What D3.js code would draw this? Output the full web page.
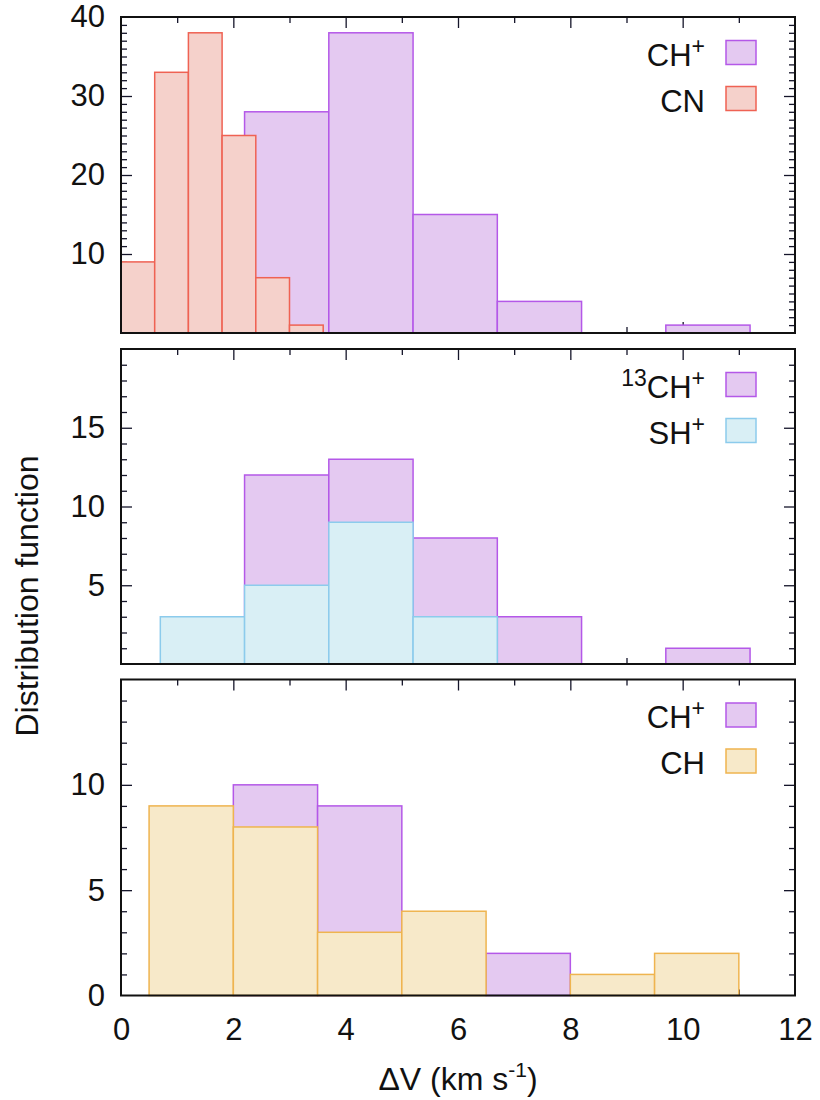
<!DOCTYPE html>
<html>
<head>
<meta charset="utf-8">
<script src="https://cdn.jsdelivr.net/npm/d3@7"></script>
<style>
  html, body { margin: 0; padding: 0; background: #fff; }
  svg text { font-family: "Liberation Sans", Arial, Helvetica, sans-serif; fill: #111; }
</style>
</head>
<body>
<svg id="chart" width="820" height="1100"></svg>
<script>
// Velocity-width histograms (bin edges in km/s, counts per bin)

// Panel 1: CH+ and CN
const chpEdges1 = [2.2, 3.7, 5.2, 6.7, 8.2, 9.7, 11.2];
const chpCounts1 = [28, 38, 15, 4, 0, 1];
const cnEdges = [0, 0.6, 1.2, 1.8, 2.4, 3.0, 3.6];
const cnCounts = [9, 33, 38, 25, 7, 1];

// Panel 2: 13CH+ and SH+
const c13Edges = [0.7, 2.2, 3.7, 5.2, 6.7, 8.2, 9.7, 11.2];
const c13Counts = [0, 12, 13, 8, 3, 0, 1];
const shpEdges = [0.7, 2.2, 3.7, 5.2, 6.7];
const shpCounts = [3, 5, 9, 3];

// Panel 3: CH+ and CH
const chpEdges3 = [0.5, 2.0, 3.5, 5.0, 6.5, 8.0, 9.5, 11.0];
const chpCounts3 = [0, 10, 9, 0, 2, 0, 0];
const chEdges = [0.5, 2.0, 3.5, 5.0, 6.5, 8.0, 9.5, 11.0];
const chCounts = [9, 8, 3, 4, 0, 1, 2];

// Axis ticks
const xMajorTicks = [0, 2, 4, 6, 8, 10, 12];
const xMinorTicks = [1, 3, 5, 7, 9, 11];
const yMax = [40, 20, 15];
const yLabelTicks = [[10, 20, 30, 40], [5, 10, 15], [0, 5, 10]];
const yMajorStep = [10, 5, 5];

const colors = {
  chp: { fill: "#e4c9f1", stroke: "#b458e8" },
  cn:  { fill: "#f5d1cb", stroke: "#ef6253" },
  shp: { fill: "#d9eff5", stroke: "#8ccbec" },
  ch:  { fill: "#f7e9c9", stroke: "#efb44f" }
};

const svg = d3.select("#chart");
const left = 121, right = 795;
const panelBox = [[17, 333], [349, 664], [679.5, 995.5]];
const fontMain = "31px";

const x = d3.scaleLinear().domain([0, 12]).range([left, right]);

const panels = [
  {
    series: [
      { edges: chpEdges1, counts: chpCounts1, c: colors.chp },
      { edges: cnEdges, counts: cnCounts, c: colors.cn }
    ],
    legend: [
      { parts: [["CH", 0], ["+", 1]], c: colors.chp },
      { parts: [["CN", 0]], c: colors.cn }
    ]
  },
  {
    series: [
      { edges: c13Edges, counts: c13Counts, c: colors.chp },
      { edges: shpEdges, counts: shpCounts, c: colors.shp }
    ],
    legend: [
      { parts: [["13", 1], ["CH", 0], ["+", 1]], c: colors.chp },
      { parts: [["SH", 0], ["+", 1]], c: colors.shp }
    ]
  },
  {
    series: [
      { edges: chpEdges3, counts: chpCounts3, c: colors.chp },
      { edges: chEdges, counts: chCounts, c: colors.ch }
    ],
    legend: [
      { parts: [["CH", 0], ["+", 1]], c: colors.chp },
      { parts: [["CH", 0]], c: colors.ch }
    ]
  }
];

panels.forEach((p, i) => {
  const [top, bottom] = panelBox[i];
  const y = d3.scaleLinear().domain([0, yMax[i]]).range([bottom, top]);
  const g = svg.append("g");

  // tick marks (inward, mirrored on all four sides)
  const yMinor = d3.range(1, yMax[i]).filter(v => v % yMajorStep[i] !== 0);
  const yMajor = d3.range(yMajorStep[i], yMax[i], yMajorStep[i]);

  const addAxis = (axis, tx, ty) => {
    const a = g.append("g").attr("transform", `translate(${tx},${ty})`).call(axis);
    a.select(".domain").remove();
    a.selectAll("line").attr("stroke", "#15152a").attr("stroke-width", 1.3);
    a.selectAll("text").remove();
  };
  addAxis(d3.axisLeft(y).tickValues(yMajor).tickSize(-11), left, 0);
  addAxis(d3.axisLeft(y).tickValues(yMinor).tickSize(-6), left, 0);
  addAxis(d3.axisRight(y).tickValues(yMajor).tickSize(-11), right, 0);
  addAxis(d3.axisRight(y).tickValues(yMinor).tickSize(-6), right, 0);
  addAxis(d3.axisTop(x).tickValues(xMajorTicks.slice(1, -1)).tickSize(-11), 0, top);
  addAxis(d3.axisTop(x).tickValues(xMinorTicks).tickSize(-6), 0, top);
  addAxis(d3.axisBottom(x).tickValues(xMajorTicks.slice(1, -1)).tickSize(-11), 0, bottom);
  addAxis(d3.axisBottom(x).tickValues(xMinorTicks).tickSize(-6), 0, bottom);

  // histogram bars
  p.series.forEach(s => {
    const bins = s.counts.map((v, k) => ({ x0: s.edges[k], x1: s.edges[k + 1], v }))
      .filter(d => d.v > 0);
    g.append("g").selectAll("rect").data(bins).join("rect")
      .attr("x", d => x(d.x0))
      .attr("y", d => y(d.v))
      .attr("width", d => x(d.x1) - x(d.x0))
      .attr("height", d => y(0) - y(d.v))
      .attr("fill", s.c.fill)
      .attr("stroke", s.c.stroke)
      .attr("stroke-width", 1.5);
  });

  // frame
  g.append("rect")
    .attr("x", left).attr("y", top)
    .attr("width", right - left).attr("height", bottom - top)
    .attr("fill", "none").attr("stroke", "#111").attr("stroke-width", 2);

  // y tick labels
  const yl = d3.axisLeft(y).tickValues(yLabelTicks[i]).tickSize(0).tickPadding(16);
  const ya = g.append("g").attr("transform", `translate(${left},0)`).call(yl);
  ya.select(".domain").remove();
  ya.selectAll("text").style("font-size", fontMain)
    .attr("font-family", "Liberation Sans, Arial, sans-serif").attr("fill", "#111");

  // legend
  p.legend.forEach((L, k) => {
    const baseY = top + 48.5 + k * 46;
    const t = g.append("text")
      .attr("x", 705).attr("y", baseY)
      .attr("text-anchor", "end")
      .style("font-size", fontMain);
    let raised = false;
    L.parts.forEach(([str, sup]) => {
      const ts = t.append("tspan").text(str);
      if (sup && !raised) { ts.attr("dy", -12).style("font-size", "23px"); raised = true; }
      else if (sup && raised) { ts.style("font-size", "23px"); }
      else if (!sup && raised) { ts.attr("dy", 12); raised = false; }
    });
    g.append("rect")
      .attr("x", 726).attr("y", baseY - 25)
      .attr("width", 30).attr("height", 24)
      .attr("fill", L.c.fill).attr("stroke", L.c.stroke).attr("stroke-width", 1.5);
  });

  // x tick labels on the bottom panel only
  if (i === panels.length - 1) {
    const xa = g.append("g").attr("transform", `translate(0,${bottom})`)
      .call(d3.axisBottom(x).tickValues(xMajorTicks).tickSize(0).tickPadding(22));
    xa.select(".domain").remove();
    xa.selectAll("text").style("font-size", fontMain)
      .attr("font-family", "Liberation Sans, Arial, sans-serif").attr("fill", "#111");
  }
});

// axis titles
const xt = svg.append("text")
  .attr("x", (left + right) / 2).attr("y", 1090)
  .attr("text-anchor", "middle").style("font-size", "32px");
xt.append("tspan").text("\u0394V (km s");
xt.append("tspan").text("-1").attr("dy", -13).style("font-size", "21px");
xt.append("tspan").text(")").attr("dy", 13);

svg.append("text")
  .attr("transform", "translate(38,596) rotate(-90)")
  .attr("text-anchor", "middle").style("font-size", "32px")
  .text("Distribution function");
</script>
</body>
</html>
